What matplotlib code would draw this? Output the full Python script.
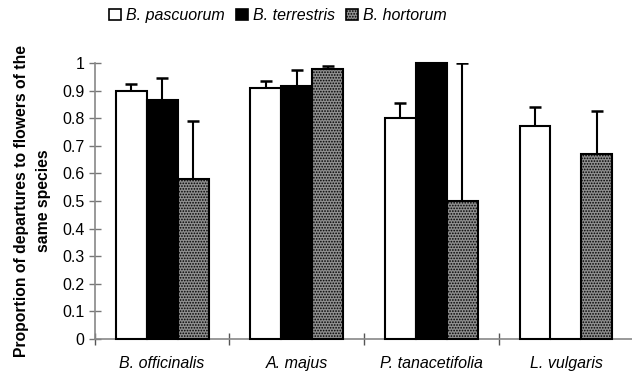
import matplotlib
matplotlib.use("Agg")
import matplotlib.pyplot as plt
import numpy as np
from matplotlib.patches import Patch

categories = ["B. officinalis", "A. majus", "P. tanacetifolia", "L. vulgaris"]
series = ["B. pascuorum", "B. terrestris", "B. hortorum"]
pascuorum = [0.90, 0.91, 0.80, 0.77]
pascuorum_err = [0.025, 0.025, 0.055, 0.07]
terrestris = [0.865, 0.915, 1.0, 0.0]
terrestris_err = [0.08, 0.06, 0.0, 0.0]
hortorum = [0.58, 0.98, 0.50, 0.67]
hortorum_err = [0.21, 0.01, 0.50, 0.155]
yticks = [0, 0.1, 0.2, 0.3, 0.4, 0.5, 0.6, 0.7, 0.8, 0.9, 1]
ytick_labels = ["0", "0.1", "0.2", "0.3", "0.4", "0.5", "0.6", "0.7", "0.8", "0.9", "1"]

plt.rcParams['font.family'] = ['Liberation Sans', 'DejaVu Sans']
plt.rcParams['hatch.linewidth'] = 0.8
plt.rcParams['hatch.color'] = '#333333'

fig = plt.figure(figsize=(6.32, 3.74), dpi=100)
ax = fig.add_axes([0.150, 0.0936, 0.852, 0.738])

x = np.arange(len(categories))
w = 0.23
styles = [dict(facecolor='white'), dict(facecolor='black'), dict(facecolor='#8f8f8f', hatch='......')]
vals = [pascuorum, terrestris, hortorum]
errs = [pascuorum_err, terrestris_err, hortorum_err]
for i in range(3):
    pos = x + (i - 1) * w
    bars = ax.bar(pos, vals[i], width=w, edgecolor='black', linewidth=1.5, zorder=3, **styles[i])
    for b in bars:
        b.set_clip_on(False)
    e = np.array(errs[i])
    mask = e > 0
    ax.errorbar(pos[mask], np.array(vals[i])[mask], yerr=[np.zeros(mask.sum()), e[mask]],
                fmt='none', ecolor='black', elinewidth=1.5, capsize=4, capthick=1.8, zorder=1)

ax.set_xlim(-0.5, len(categories) - 0.5)
ax.set_ylim(0, 1)
ax.set_yticks(yticks)
ax.set_yticklabels(ytick_labels, fontsize=11.5)
ax.set_xticks(x)
ax.set_xticklabels(categories, fontsize=11.5, style='italic')
ax.set_xticks(np.arange(len(categories) + 1) - 0.5, minor=True)
ax.tick_params(axis='x', which='major', length=0, pad=12)
ax.tick_params(axis='x', which='minor', direction='inout', length=8, color='#555555', width=1)
ax.tick_params(axis='y', direction='inout', length=9, color='#777777', width=1, pad=3)
for s in ['top', 'right']:
    ax.spines[s].set_visible(False)
ax.spines['left'].set_color('#888888')
ax.spines['bottom'].set_color('#888888')
ax.spines['left'].set_linewidth(1.2)
ax.spines['bottom'].set_linewidth(1.2)

ax.set_ylabel("Proportion of departures to flowers of the\nsame species", fontsize=11.3,
              fontweight='bold', labelpad=8, linespacing=1.55)

handles = [Patch(edgecolor='black', linewidth=1.2, **styles[i]) for i in range(3)]
fig.legend(handles, series, loc='center', bbox_to_anchor=(0.44, 0.958), ncol=3, frameon=False,
           prop=dict(style='italic', size=11.5), handlelength=0.75, handleheight=0.75,
           handletextpad=0.3, columnspacing=0.7, borderpad=0)

fig.savefig("out.png", dpi=100)
